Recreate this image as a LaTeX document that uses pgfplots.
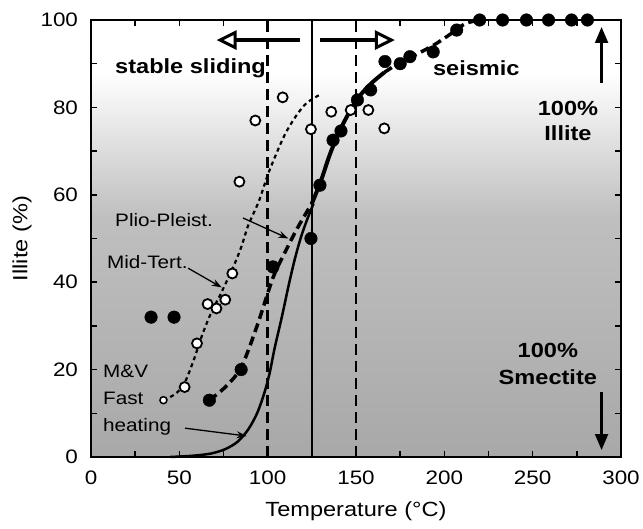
\documentclass[border=0pt]{standalone}
\usepackage{fontspec}
\setmainfont[FakeStretch=1.15]{Liberation Sans}
\usepackage{pgfplots}
\pgfplotsset{compat=1.18}
\usetikzlibrary{arrows.meta}

\begin{document}
\begin{tikzpicture}
\begin{axis}[name=ax,
 width=530pt,height=437pt,scale only axis,
 xmin=0,xmax=300,ymin=0,ymax=100,
 set layers, clip=false,
 axis line style={line width=2pt},
 xtick={0,50,...,300}, minor xtick={25,75,...,275},
 ytick={0,20,...,100}, minor ytick={10,30,...,90},
 tick align=inside, major tick length=6pt, minor tick length=6pt,
 tick style={black,line width=1.5pt},
 tick label style={font=\fontsize{19.5}{20}\selectfont},
 /pgf/number format/assume math mode=true,
 xticklabel style={yshift=-10pt},
 yticklabel style={xshift=-9.5pt},
]
\begin{pgfonlayer}{axis background}
\fill[bottom color=black!34, top color=black!25] (axis cs:0,0) rectangle (axis cs:300,55);
\fill[bottom color=black!25, top color=white] (axis cs:0,55) rectangle (axis cs:300,88);
\end{pgfonlayer}

% vertical reference lines
\addplot[black,line width=1.5pt] coordinates {(125,0)(125,100)};
\addplot[black,line width=2.5pt,dash pattern=on 11pt off 6pt] coordinates {(100,0)(100,100)};
\addplot[black,line width=2.5pt,dash pattern=on 11pt off 6pt] coordinates {(150,0)(150,100)};

% Mid-Tert fit
\addplot[black,line width=2.2pt,dash pattern=on 4pt off 3.5pt,smooth] coordinates {(41,13)(48,14.5)(53,17)(58,22)(63,28)(68,33)(73,37)(80,43)(85,48)(89,53)(95,58.5)(100,64.5)(105,69.5)(110,74)(116,78)(122,81)(130,83)};

% M&V fast heating
\addplot[black,line width=2.5pt,smooth] coordinates {(45,0)(58,0.3)(68,0.8)(76,1.8)(83,3.5)(89,6.3)(94,10)(98,14.5)(101,19)(104,25)(108,32)(112,39.5)(115.5,45.5)(119,50.5)(122.5,54.5)(126,58)};

% Plio-Pleist fit
\addplot[black,line width=3.5pt,dash pattern=on 9pt off 5pt,smooth] coordinates {(67,13)(76,16)(85,20.5)(94,30)(103,41)(110,47)(117,52.5)(125,58)};
\addplot[black,line width=4pt,smooth] coordinates {(125,58)(130,63)(135,69)(140,74)(145,78)(150,81.5)(155,84)(160,86)(166,88)};
\addplot[black,line width=3.5pt,dash pattern=on 9pt off 5pt,smooth] coordinates {(166,88)(175,90.3)(185,92.3)(195,94.5)(205,97.2)(212,99.2)(220,100)};
\addplot[black,line width=1.5pt] coordinates {(220,100)(281,100)};

% filled points
\addplot[only marks,mark=*,mark size=6.3pt,black] coordinates {(34,32)(47,32)(67,13)(85,20)(103,43.5)(124.5,50)(129.6,62.2)(137,72.5)(141.5,74.6)(150.8,81.7)(158.3,84)(166.4,90.5)(175,90)(180.5,91.6)(193.7,92.7)(207,97.7)(220,100)(233,100)(246.5,100)(259,100)(272,100)(281,100)};

% open points
\addplot[only marks,mark=*,mark size=5pt,mark options={draw=black,fill=white,line width=1.8pt}] coordinates {(53,16)(60,26)(66,35)(71,34)(76,36)(80,42)(84,63)(93,77)(108.5,82.3)(124.5,75)(136,79)(147,79.4)(157,79.4)(166,75.2)};
\addplot[only marks,mark=*,mark size=3.5pt,mark options={draw=black,fill=white,line width=1.5pt}] coordinates {(41,13)};

% top arrows
\draw[line width=4pt,-{Triangle[fill=white,length=20pt,width=19pt,line width=3pt]}] (axis cs:118.3,95.4) -- (axis cs:71.1,95.4);
\draw[line width=4pt,-{Triangle[fill=white,length=20pt,width=19pt,line width=3pt]}] (axis cs:129.6,95.4) -- (axis cs:172,95.4);
% right arrows
\draw[line width=2.2pt,-{Triangle[length=16pt,width=13pt]}] (axis cs:289,85.6) -- (axis cs:289,98.4);
\draw[line width=2.2pt,-{Triangle[length=16pt,width=13pt]}] (axis cs:289,14.9) -- (axis cs:289,1.6);

% annotation arrows
\draw[line width=1.3pt,-{Stealth[length=10pt,width=7pt]}] (axis cs:86,54.7) -- (axis cs:111.7,50);
\draw[line width=1.3pt,-{Stealth[length=10pt,width=7pt]}] (axis cs:55,43.2) -- (axis cs:74,38.8);
\draw[line width=1.3pt,-{Stealth[length=10pt,width=7pt]}] (axis cs:53.2,6.6) -- (axis cs:88.1,4.8);

% texts
\node[anchor=west,inner sep=0pt,font=\fontsize{20.5}{24}\selectfont\bfseries] at (axis cs:13.6,89) {stable sliding};
\node[anchor=west,inner sep=0pt,font=\fontsize{20.5}{24}\selectfont\bfseries] at (axis cs:193.5,89) {seismic};
\node[align=center,inner sep=0pt,font=\fontsize{20.5}{25}\selectfont\bfseries] at (axis cs:270,77) {100\%\\Illite};
\node[align=center,inner sep=0pt,font=\fontsize{20.5}{27}\selectfont\bfseries] at (axis cs:258.6,21.4) {100\%\\Smectite};
\node[anchor=west,inner sep=0pt,font=\fontsize{18}{20}\selectfont] at (axis cs:13.6,54.2) {Plio-Pleist.};
\node[anchor=west,inner sep=0pt,font=\fontsize{18}{20}\selectfont] at (axis cs:9,44.6) {Mid-Tert.};
\node[anchor=west,align=left,inner sep=0pt,font=\fontsize{18}{27}\selectfont] at (axis cs:6.8,13) {M\&V\\Fast\\heating};

% axis labels
\path (rel axis cs:0,0.5) ++(-69pt,0pt) node[rotate=90,font=\fontsize{20.5}{24}\selectfont] {Illite (\%)};
\path (rel axis cs:0.5,0) ++(0pt,-54pt) node[font=\fontsize{20.5}{24}\selectfont] {Temperature (°C)};
\end{axis}
\pgfresetboundingbox
\path ([shift={(-91pt,-71pt)}]ax.south west) rectangle ([shift={(22pt,20pt)}]ax.north east);
\end{tikzpicture}
\end{document}
